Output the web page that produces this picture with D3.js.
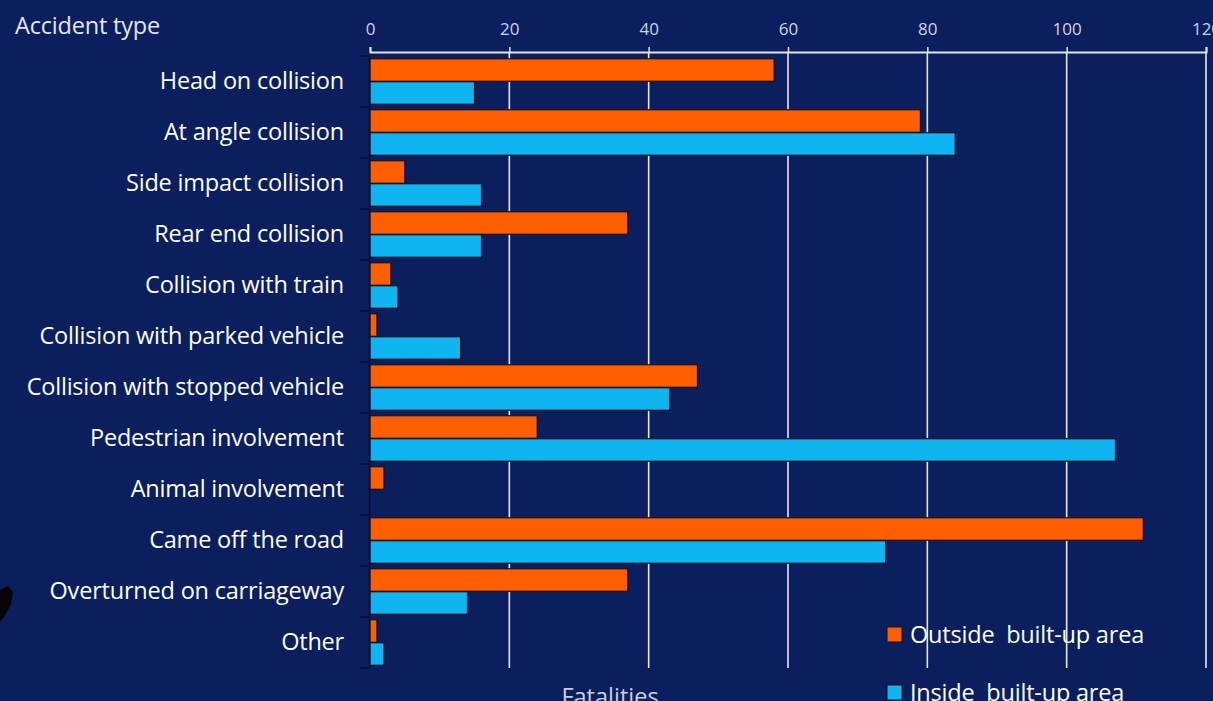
<!DOCTYPE html>
<html><head><meta charset="utf-8">
<script src="https://cdn.jsdelivr.net/npm/d3@7"></script>
<style>html,body{margin:0;padding:0;background:#0b1f5e;overflow:hidden}</style>
</head><body>
<svg id="c" width="1213" height="701"></svg>
<script>
const categories = ["Head on collision","At angle collision","Side impact collision","Rear end collision","Collision with train","Collision with parked vehicle","Collision with stopped vehicle","Pedestrian involvement","Animal involvement","Came off the road","Overturned on carriageway","Other"];
const outsideValues = [58,79,5,37,3,1,47,24,2,111,37,1];
const insideValues = [15,84,16,16,4,13,43,107,0,74,14,2];
const xTicks = [0,20,40,60,80,100,120];
const seriesNames = ["Outside  built-up area","Inside  built-up area"];
const colors = ["#ff5f00","#0fb5f0"];

const svg = d3.select("#c");
svg.append("rect").attr("width",1213).attr("height",701).attr("fill","#0b1f5e");
const font = "'Open Sans', 'Segoe UI', sans-serif";
const x = d3.scaleLinear().domain([0,120]).range([370,1206]);
const y = d3.scaleBand().domain(categories).range([56,668]).paddingInner(0).paddingOuter(0);
const inner = d3.scaleBand().domain([0,1]).range([0,y.bandwidth()]).paddingInner(0.02).paddingOuter(0.12);

// grid
svg.append("g").selectAll("line").data(xTicks.slice(1)).join("line")
  .attr("x1",d=>x(d)).attr("x2",d=>x(d)).attr("y1",52).attr("y2",668)
  .attr("stroke","#e6e8f0").attr("stroke-width",1.6);

// top axis
const ax = svg.append("g").attr("transform","translate(0,52)")
  .call(d3.axisTop(x).tickValues(xTicks).tickSize(5).tickPadding(12));
ax.select(".domain").attr("stroke","#dfe3ee").attr("stroke-width",2);
ax.selectAll(".tick line").attr("stroke","#dfe3ee").attr("stroke-width",1.5);
ax.selectAll("text").attr("fill","#cfd4e2").attr("font-family",font).attr("font-size",17);

// bars
const data = categories.map((c,i)=>({c, v:[outsideValues[i], insideValues[i]]}));
const g = svg.append("g");
data.forEach(d=>{
  d.v.forEach((v,k)=>{
    if(v<=0) return;
    g.append("rect").attr("x",x(0)).attr("y",y(d.c)+inner(k))
      .attr("width",x(v)-x(0)).attr("height",inner.bandwidth())
      .attr("fill",colors[k]).attr("stroke","#1a0f20").attr("stroke-width",1.2);
  });
});

// left axis
const ay = svg.append("g").attr("transform","translate(369,0)")
  .call(d3.axisLeft(y).tickSize(0).tickPadding(25));
ay.select(".domain").attr("stroke","#0a0f2a").attr("stroke-width",1.5);
ay.selectAll("text").attr("fill","#ffffff").attr("font-family",font).attr("font-size",23.5).attr("letter-spacing","-0.2");
// category boundary ticks
svg.append("g").selectAll("line").data(d3.range(categories.length+1)).join("line")
  .attr("x1",360).attr("x2",369).attr("y1",i=>56+i*y.step()).attr("y2",i=>56+i*y.step())
  .attr("stroke","#0a0f2a").attr("stroke-width",1.5);

// titles
svg.append("text").attr("x",15).attr("y",34).text("Accident type")
  .attr("fill","#e3e6ef").attr("font-family",font).attr("font-size",23.5).attr("letter-spacing","-0.2");
svg.append("text").attr("x",610).attr("y",705).attr("text-anchor","middle").text("Fatalities")
  .attr("fill","#c9cede").attr("font-family",font).attr("font-size",23.5);

// legend
const lg = svg.append("g");
seriesNames.forEach((n,k)=>{
  const yy = 627 + k*58;
  lg.append("rect").attr("x",887).attr("y",yy).attr("width",15).attr("height",15)
    .attr("fill",colors[k]).attr("stroke","#1a0f20").attr("stroke-width",1);
  lg.append("text").attr("x",910).attr("y",yy+16).text(n).attr("fill","#ffffff")
    .attr("font-family",font).attr("font-size",23.5).attr("letter-spacing","-0.2").style("white-space","pre");
});

// dark artifact at left edge
svg.append("path").attr("d","M0,590 L8,586 L13,592 L11,604 L6,614 L0,622 Z").attr("fill","#050508");
</script>
</body></html>
